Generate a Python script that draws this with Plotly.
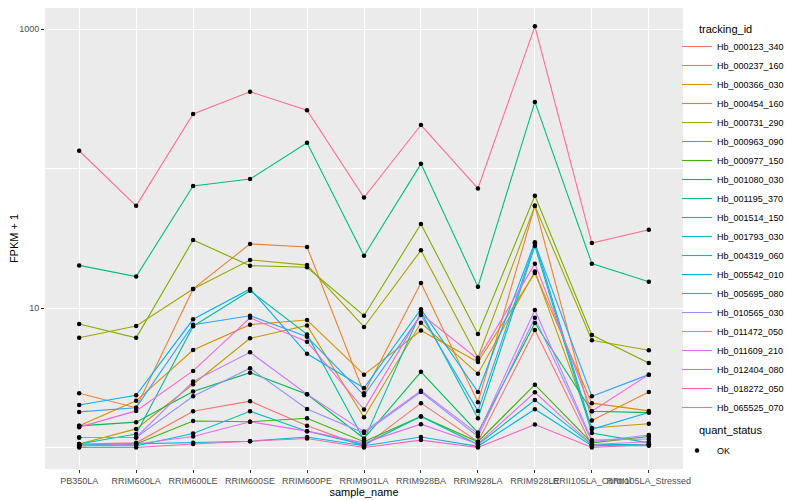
import plotly.graph_objects as go

samples = ["PB350LA", "RRIM600LA", "RRIM600LE", "RRIM600SE", "RRIM600PE", "RRIM901LA",
           "RRIM928BA", "RRIM928LA", "RRIM928LE", "RRII105LA_Control", "RRII105LA_Stressed"]

tracking_ids = ["Hb_000123_340", "Hb_000237_160", "Hb_000366_030", "Hb_000454_160", "Hb_000731_290",
                "Hb_000963_090", "Hb_000977_150", "Hb_001080_030", "Hb_001195_370", "Hb_001514_150",
                "Hb_001793_030", "Hb_004319_060", "Hb_005542_010", "Hb_005695_080", "Hb_010565_030",
                "Hb_011472_050", "Hb_011609_210", "Hb_012404_080", "Hb_018272_050", "Hb_065525_070"]

colors = ["#F8766D", "#EA8331", "#D89000", "#C09B00", "#A3A500", "#7CAE00", "#39B600", "#00BB4E",
          "#00BF7D", "#00C1A3", "#00BFC4", "#00BAE0", "#00B0F6", "#35A2FF", "#9590FF", "#C77CFF",
          "#E76BF3", "#FA62DB", "#FF62BC", "#FF6C91"]

hb_000123_340 = [1.06, 1.08, 1.82, 2.15, 1.43, 1.02, 2.08, 1.10, 6.95, 1.03, 1.05]
hb_000237_160 = [2.45, 1.93, 13.7, 28.8, 27.4, 2.45, 15.1, 2.11, 54.0, 1.56, 2.50]
hb_000366_030 = [1.43, 2.16, 5.00, 7.60, 8.20, 3.33, 6.90, 4.10, 17.8, 2.08, 1.83]
hb_000454_160 = [1.06, 1.36, 2.84, 6.06, 7.50, 1.65, 7.84, 3.38, 18.3, 1.38, 1.48]
hb_000731_290 = [6.12, 7.43, 13.7, 22.1, 20.3, 7.31, 25.9, 4.40, 54.0, 5.87, 4.98]
hb_000963_090 = [7.68, 6.12, 30.7, 20.1, 19.6, 8.80, 40.0, 6.50, 63.8, 6.40, 4.03]
hb_000977_150 = [1.03, 1.06, 1.55, 1.53, 1.62, 1.10, 1.67, 1.10, 2.82, 1.08, 1.20]
hb_001080_030 = [1.43, 1.52, 2.52, 3.44, 2.41, 1.16, 3.49, 1.28, 7.80, 1.82, 1.78]
hb_001195_370 = [20.2, 16.8, 75.0, 84.0, 153.0, 23.7, 108.0, 14.2, 300.0, 20.8, 15.4]
hb_001514_150 = [1.06, 1.25, 7.40, 13.3, 6.47, 1.13, 9.40, 1.62, 27.8, 1.27, 1.08]
hb_001793_030 = [1.03, 1.03, 1.26, 1.82, 1.31, 1.05, 1.67, 1.05, 2.19, 1.05, 1.05]
hb_004319_060 = [1.04, 1.06, 1.08, 1.11, 1.19, 1.03, 1.19, 1.02, 1.88, 1.03, 1.03]
hb_005542_010 = [2.02, 2.37, 8.30, 13.7, 4.70, 2.67, 9.80, 2.50, 29.6, 1.35, 1.78]
hb_005695_080 = [1.80, 1.93, 7.60, 8.80, 6.22, 2.37, 8.90, 1.83, 29.0, 2.33, 3.33]
hb_010565_030 = [1.18, 1.18, 2.33, 3.70, 1.89, 1.27, 2.50, 1.20, 8.50, 1.10, 1.23]
hb_011472_050 = [1.18, 1.18, 2.97, 4.81, 2.41, 1.30, 2.55, 1.25, 9.67, 1.13, 1.15]
hb_011609_210 = [1.03, 1.06, 1.20, 1.53, 1.31, 1.08, 1.47, 1.06, 2.49, 1.05, 1.10]
hb_012404_080 = [1.40, 1.83, 3.54, 8.50, 5.74, 1.87, 9.10, 4.30, 20.8, 1.82, 3.33]
hb_018272_050 = [1.00, 1.00, 1.06, 1.11, 1.16, 1.00, 1.13, 1.00, 1.46, 1.00, 1.05]
hb_065525_070 = [134.0, 54.0, 246.0, 355.0, 262.0, 62.0, 205.0, 72.0, 1045.0, 29.2, 36.4]

series = [hb_000123_340, hb_000237_160, hb_000366_030, hb_000454_160, hb_000731_290,
          hb_000963_090, hb_000977_150, hb_001080_030, hb_001195_370, hb_001514_150,
          hb_001793_030, hb_004319_060, hb_005542_010, hb_005695_080, hb_010565_030,
          hb_011472_050, hb_011609_210, hb_012404_080, hb_018272_050, hb_065525_070]

quant_status = ["OK"]

# The page body has an 8px margin, so the figure is sized 792x492 to fill an 800x500 window.
W, H = 792, 492
L, R, T, B = 37, 117, 0, 31
PW, PH = W - L - R, H - T - B


def px(x_page):
    return (x_page - 8 - L) / PW


def py(y_page):
    return 1 - (y_page - 8 - T) / PH


fig = go.Figure()
for tid, vals, col in zip(tracking_ids, series, colors):
    fig.add_trace(go.Scatter(
        x=samples, y=vals, mode="lines", name=tid,
        line=dict(color=col, width=1.1),
        legendgroup="tid",
    ))

all_x = [s for vals in series for s in samples]
all_y = [v for vals in series for v in vals]
fig.add_trace(go.Scatter(
    x=all_x, y=all_y, mode="markers", name=quant_status[0],
    marker=dict(color="black", size=4.5, symbol="circle"),
    legendgroup="qs",
))

fig.add_annotation(text="tracking_id", xref="paper", yref="paper",
                   x=px(697), y=py(29), xanchor="left", yanchor="middle",
                   showarrow=False, font=dict(size=11, color="black"))
fig.add_annotation(text="quant_status", xref="paper", yref="paper",
                   x=px(697), y=py(430), xanchor="left", yanchor="middle",
                   showarrow=False, font=dict(size=11, color="black"))

fig.update_layout(
    width=W, height=H,
    margin=dict(l=L, r=R, t=T, b=B),
    paper_bgcolor="white",
    plot_bgcolor="#EBEBEB",
    font=dict(family="Liberation Sans, Arial, sans-serif", size=9, color="black"),
    showlegend=True,
    legend=dict(
        x=px(677), xanchor="left", y=py(32), yanchor="top",
        font=dict(size=9, color="black"),
        itemwidth=30,
        tracegroupgap=24,
        traceorder="grouped",
        bgcolor="rgba(0,0,0,0)",
    ),
    xaxis=dict(
        type="category",
        categoryorder="array", categoryarray=samples,
        range=[-0.6, 10.6],
        tickangle=0,
        showgrid=True, gridcolor="white", gridwidth=1.2,
        ticks="outside", ticklen=3, tickcolor="#333333", tickwidth=1,
        tickfont=dict(size=9, color="#4D4D4D"),
        title=dict(text="sample_name", font=dict(size=11, color="black"), standoff=0),
        zeroline=False, showline=False, automargin=False,
    ),
    yaxis=dict(
        type="log",
        range=[-0.154, 3.1505],
        tickvals=[10, 1000], ticktext=["10", "1000"],
        showgrid=True, gridcolor="white", gridwidth=1.2,
        minor=dict(tickvals=[1, 100], showgrid=True, gridcolor="white", gridwidth=0.6, ticks=""),
        ticks="outside", ticklen=3, tickcolor="#333333", tickwidth=1,
        tickfont=dict(size=9, color="#4D4D4D"),
        title=dict(text="FPKM + 1", font=dict(size=11, color="black"), standoff=6),
        zeroline=False, showline=False, automargin=False,
    ),
)

fig.write_html("out.html")
